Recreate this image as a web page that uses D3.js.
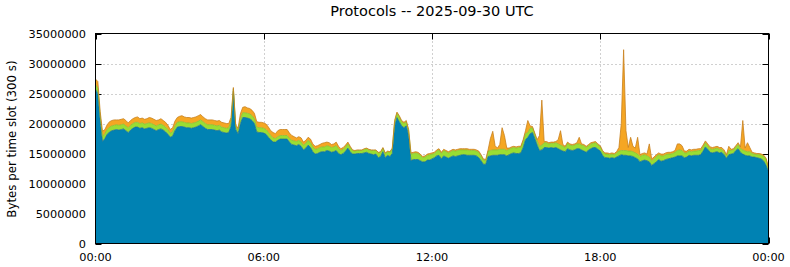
<!DOCTYPE html>
<html><head><meta charset="utf-8">
<script src="https://cdn.jsdelivr.net/npm/d3@7/dist/d3.min.js"></script>
<style>
html,body{margin:0;padding:0;background:#fff;}
svg{display:block;font-family:"DejaVu Sans",sans-serif;}
</style></head><body>
<svg id="chart" width="790" height="267"></svg>
<script>
// Values in millions of bytes per 5-minute slot, 00:00 .. 24:00 (289 slots)
const blue = [
25.7,25.0,20.5,17.0,17.5,18.2,18.6,18.8,18.9,19.0,18.9,19.0,19.1,18.8,18.5,18.9,19.2,19.4,19.4,19.2,
19.3,19.1,19.2,19.3,19.2,19.0,18.8,19.0,19.1,18.9,18.6,18.2,17.7,17.9,18.8,19.4,19.5,19.5,19.4,19.3,
19.3,19.2,19.3,19.4,19.6,19.8,19.5,19.2,19.0,19.0,19.0,18.9,18.8,18.9,18.6,18.5,18.4,18.5,19.5,25.4,
19.0,18.3,20.0,21.0,21.0,20.9,20.8,20.5,20.0,18.6,18.5,18.5,18.4,18.2,17.7,17.3,16.9,16.9,17.2,17.4,
17.4,17.4,17.4,16.9,16.5,16.4,16.3,16.5,16.2,15.6,15.9,16.4,16.0,15.3,14.9,15.0,15.2,15.3,15.3,15.5,
15.4,15.2,15.3,15.5,15.0,14.8,15.0,15.4,15.9,15.3,14.9,14.9,15.0,15.0,15.0,15.1,15.2,15.0,14.9,14.8,
14.9,14.3,14.5,15.3,14.3,14.7,14.5,15.0,19.5,21.0,20.3,19.6,19.3,19.6,18.0,13.8,14.0,14.0,14.0,13.8,
13.6,13.6,13.9,13.9,14.1,14.3,14.6,14.7,14.1,14.6,14.4,14.2,14.4,14.6,14.5,14.6,14.7,14.8,14.8,14.7,
14.7,14.7,14.7,14.6,14.3,13.8,13.2,13.2,14.5,14.6,14.7,14.7,14.7,14.8,14.8,14.8,14.6,14.8,15.0,15.1,
15.0,15.0,15.1,16.0,17.3,17.7,18.3,18.5,17.5,16.4,15.5,15.6,16.0,16.0,15.9,16.0,15.9,16.0,15.8,15.6,
15.4,15.3,15.8,15.6,15.5,15.6,15.8,15.8,15.6,15.4,15.2,15.6,15.8,16.0,16.0,15.7,15.4,14.7,14.3,14.3,
14.2,14.3,14.2,14.4,14.6,14.8,14.7,14.7,14.6,14.6,14.5,14.3,14.1,13.6,13.8,13.9,13.8,13.6,13.0,13.3,
13.6,14.0,13.7,13.8,14.0,14.1,14.2,14.3,14.4,14.6,14.6,14.6,14.3,14.4,14.7,14.6,14.7,14.7,14.7,14.8,
15.4,16.1,15.7,15.2,15.1,15.2,15.3,15.1,15.2,14.8,14.2,14.8,14.9,15.0,15.5,15.8,15.2,14.9,14.7,14.6,
14.6,14.4,14.4,14.3,14.2,14.1,13.7,13.0,12.0
];
const green = [
0.8,0.9,0.8,0.8,0.8,0.8,0.8,0.8,0.8,0.8,0.8,0.8,0.8,0.8,0.8,0.8,0.8,0.8,0.8,0.8,
0.8,0.8,0.8,0.8,0.8,0.8,0.8,0.8,0.8,0.8,0.8,0.8,0.7,0.7,0.8,0.8,0.8,0.8,0.8,0.8,
0.8,0.8,0.8,0.8,0.8,0.8,0.8,0.8,0.8,0.8,0.8,0.8,0.8,0.8,0.8,0.8,0.8,0.8,0.8,0.4,
0.5,0.5,0.8,0.8,0.8,0.8,0.8,0.8,0.8,0.8,0.8,0.8,0.8,0.8,0.8,0.7,0.7,0.6,0.6,0.6,
0.6,0.6,0.6,0.6,0.7,0.7,0.7,0.7,0.7,0.8,0.8,0.8,0.8,0.8,0.8,0.8,0.8,0.8,0.8,0.8,
0.8,0.8,0.8,0.8,0.8,0.7,0.7,0.7,0.7,0.7,0.6,0.5,0.5,0.5,0.5,0.6,0.6,0.6,0.6,0.7,
0.6,0.8,0.7,0.6,0.7,0.6,0.7,0.8,0.8,0.7,0.8,0.7,0.7,0.7,0.8,1.1,1.0,1.1,1.0,0.9,
0.7,0.8,0.8,0.9,0.8,0.7,0.8,0.9,0.9,0.9,0.9,0.9,0.9,0.9,0.9,0.9,0.9,0.8,0.8,0.9,
0.8,0.8,0.8,0.8,0.9,0.8,0.7,0.6,0.9,0.9,0.9,0.9,0.9,0.9,0.9,0.9,0.9,0.9,0.9,0.9,
0.9,1.0,0.9,1.0,1.0,0.8,0.9,0.8,0.7,0.7,0.7,0.8,0.8,0.8,0.7,0.7,0.8,0.8,0.8,0.8,
0.8,0.7,0.9,0.8,0.8,0.8,0.8,0.8,0.8,0.9,0.8,0.7,0.8,0.7,0.8,0.7,0.7,0.6,0.6,0.6,
0.6,0.6,0.6,0.7,0.8,0.7,0.8,0.8,0.8,0.8,0.8,0.8,0.8,0.9,0.9,0.9,0.8,0.8,0.8,0.8,
0.9,0.8,0.9,0.8,0.8,0.8,0.7,0.7,0.8,0.9,1.0,0.9,0.8,0.7,0.7,0.7,0.7,0.7,0.8,0.7,
0.7,0.7,0.6,0.6,0.6,0.6,0.6,0.6,0.5,0.5,0.4,0.7,0.6,0.6,0.6,0.7,0.6,0.7,0.7,0.7,
0.7,0.6,0.5,0.5,0.6,0.6,0.8,1.0,0.4
];
const orange = [
0.9,1.1,0.7,0.9,0.7,0.8,0.9,0.9,0.9,0.8,0.9,0.9,0.9,0.9,0.8,0.8,0.8,0.8,0.9,0.8,
0.8,0.8,0.8,0.9,0.9,0.9,0.9,0.8,0.9,0.8,0.8,0.7,0.6,0.7,0.8,0.8,0.9,1.0,0.9,0.9,
0.9,0.9,0.9,0.9,0.9,0.9,0.8,0.8,0.8,0.8,0.8,0.8,0.8,0.8,0.8,0.8,0.8,0.7,0.7,0.2,
0.3,0.4,0.8,0.9,1.0,0.9,0.9,0.9,0.9,0.9,0.9,0.9,0.9,0.9,0.9,0.8,0.9,0.8,1.0,1.0,
1.0,1.0,1.0,0.9,0.8,0.7,0.6,0.6,0.7,0.5,0.5,0.5,0.6,0.5,0.5,0.5,0.5,0.6,0.7,0.6,
0.6,0.5,0.5,0.6,0.4,0.3,0.3,0.3,0.3,0.2,0.1,0.1,0.1,0.1,0.1,0.1,0.1,0.1,0.1,0.1,
0.1,0.1,0.1,0.1,0.1,0.1,0.1,0.1,0.2,0.2,0.2,0.2,0.2,0.2,0.2,0.2,0.2,0.2,0.2,0.2,
0.2,0.2,0.2,0.2,0.2,0.2,0.2,0.2,0.2,0.2,0.2,0.2,0.2,0.2,0.2,0.2,0.2,0.2,0.2,0.2,
0.2,0.2,0.2,0.2,0.2,0.2,0.2,0.2,0.2,2.0,3.1,0.7,0.3,0.8,3.6,2.3,0.4,0.2,0.2,0.2,
0.2,0.2,0.2,0.3,0.5,2.0,0.4,0.2,0.2,0.2,1.8,7.5,0.2,0.2,0.2,0.2,0.2,0.2,0.7,2.4,
0.3,0.2,0.2,0.2,0.2,0.2,0.2,1.1,0.2,0.2,0.2,0.2,0.2,0.2,0.2,0.2,0.2,0.2,0.2,0.2,
0.2,0.2,0.2,0.2,0.6,4.5,16.8,3.3,0.6,2.3,0.9,0.8,2.8,0.3,0.3,0.3,0.3,2.2,0.3,0.3,
0.3,0.3,0.3,0.3,0.3,0.3,0.3,0.3,0.3,1.1,1.0,0.8,0.3,0.3,0.3,0.3,0.3,0.3,0.3,0.3,
0.3,0.3,0.3,0.3,0.3,0.3,0.3,0.3,0.3,0.3,0.2,0.7,0.2,0.2,0.2,0.3,0.3,4.9,0.5,1.5,
0.7,0.2,0.2,0.2,0.2,0.2,0.2,0.2,0.2
];
const seriesKeys = ["blue","green","orange"];
const yTicks = [0,5000000,10000000,15000000,20000000,25000000,30000000,35000000];
const xTickLabels = ["00:00","06:00","12:00","18:00","00:00"];
const xTickSlots = [0,72,144,216,288];
const titleText = "Protocols -- 2025-09-30 UTC";
const yLabel = "Bytes per time slot (300 s)";

const data = blue.map((b,i)=>({slot:i, blue:b*1e6, green:green[i]*1e6, orange:orange[i]*1e6}));
const stack = d3.stack().keys(seriesKeys)(data);

const L=95.5, R=768.5, T=33.5, B=243.5;
const x = d3.scaleLinear().domain([0,288]).range([L,R]);
const y = d3.scaleLinear().domain([0,35000000]).range([B,T]);

const svg = d3.select("#chart");
const fills = {blue:"#0082b3", green:"#99dd33", orange:"#f5a623"};
const strokes = {blue:"#1a6f96", green:"#88c030", orange:"#c8801e"};

// title
svg.append("text").attr("x",432).attr("y",16).attr("text-anchor","middle")
  .attr("font-size",14.5).attr("fill","#000").text(titleText);

// grid
const grid = svg.append("g").attr("stroke","#a0a0a0").attr("stroke-dasharray","1,3").attr("stroke-width",1);
yTicks.filter(v=>v>0 && v<35000000).forEach(v=>{
  const yy = Math.round(y(v))+0.5;
  grid.append("line").attr("x1",L).attr("x2",R).attr("y1",yy).attr("y2",yy);
});
xTickSlots.filter(s=>s>0 && s<288).forEach(s=>{
  const xx = Math.round(x(s))+0.5;
  grid.append("line").attr("y1",T).attr("y2",B).attr("x1",xx).attr("x2",xx);
});

// ticks (behind data)
const tk = svg.append("g").attr("stroke","#000").attr("stroke-width",1);
yTicks.forEach(v=>{
  const yy = Math.round(y(v))+0.5;
  tk.append("line").attr("x1",L).attr("x2",L+6).attr("y1",yy).attr("y2",yy);
  tk.append("line").attr("x1",R-6).attr("x2",R).attr("y1",yy).attr("y2",yy);
});
xTickSlots.forEach(s=>{
  const xx = Math.round(x(s))+0.5;
  tk.append("line").attr("x1",xx).attr("x2",xx).attr("y1",T).attr("y2",T+6);
  tk.append("line").attr("x1",xx).attr("x2",xx).attr("y1",B-6).attr("y2",B);
});

// areas
const area = d3.area().x(d=>x(d.data.slot)).y0(d=>y(d[0])).y1(d=>y(d[1]));
const line = d3.line().x(d=>x(d.data.slot)).y(d=>y(d[1]));
stack.forEach(layer=>{
  svg.append("path").datum(layer).attr("d",area).attr("fill",fills[layer.key]);
});
stack.forEach(layer=>{
  svg.append("path").datum(layer).attr("d",line).attr("fill","none")
    .attr("stroke",strokes[layer.key]).attr("stroke-width",0.8);
});

// border
svg.append("rect").attr("x",L).attr("y",T).attr("width",R-L).attr("height",B-T)
  .attr("fill","none").attr("stroke","#000").attr("stroke-width",1);

// y tick labels
const fmt = d3.format("d");
yTicks.forEach(v=>{
  svg.append("text").attr("x",86).attr("y",y(v)+4).attr("text-anchor","end")
    .attr("font-size",11.3).attr("fill","#000").text(fmt(v));
});
// x tick labels
xTickSlots.forEach((s,i)=>{
  svg.append("text").attr("x",x(s)).attr("y",261).attr("text-anchor","middle")
    .attr("font-size",11.3).attr("fill","#000").text(xTickLabels[i]);
});
// y label
svg.append("text").attr("transform","translate(16,139) rotate(-90)").attr("text-anchor","middle")
  .attr("font-size",11.8).attr("fill","#000").text(yLabel);
</script>
</body></html>
